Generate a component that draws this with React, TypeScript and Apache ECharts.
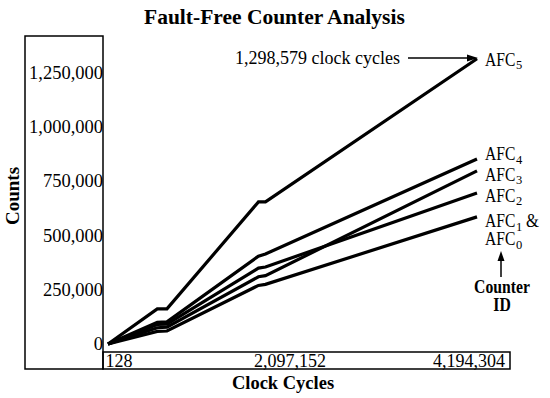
import React, { useEffect, useRef } from "react";
import * as echarts from "echarts";

const clockCycles = [128, 560000, 670000, 1710000, 1790000, 4194304];
const afc5 = [0, 162000, 162000, 655000, 655000, 1315000];
const afc4 = [0, 100000, 102000, 405000, 415000, 853000];
const afc3 = [0, 75000, 78000, 310000, 315000, 798000];
const afc2 = [0, 90000, 92000, 350000, 355000, 696000];
const afc10 = [0, 58000, 60000, 270000, 275000, 586000];
const xTickLabels = ["128", "2,097,152", "4,194,304"];
const seriesNames = ["AFC5", "AFC4", "AFC3", "AFC2", "AFC1 & AFC0"];

const FONT = "'Liberation Serif', 'Times New Roman', serif";

export default function App() {
  const ref = useRef<HTMLDivElement>(null);
  useEffect(() => {
    const chart = echarts.init(ref.current!, null, { renderer: "svg" });
    const all = [afc5, afc4, afc3, afc2, afc10];
    const txt = (x: number, y: number, text: string, size: number, opts: any = {}) => ({
      type: "text",
      x,
      y,
      scaleX: opts.scaleX ?? 1,
      rotation: opts.rotation ?? 0,
      style: {
        text,
        fontSize: size,
        fontFamily: FONT,
        fontWeight: opts.bold ? "bold" : "normal",
        fill: "#000",
        align: opts.align ?? "left",
        textAlign: opts.align ?? "left",
        verticalAlign: "middle",
        textVerticalAlign: "middle",
      },
    });
    const afcLabel = (y: number, sub: string, extra?: string) => {
      const els: any[] = [
        txt(485, y, "AFC", 19.5, { scaleX: 0.8 }),
        txt(516, y + 6, sub, 12.5),
      ];
      if (extra) els.push(txt(526, y, extra, 19.5, { scaleX: 0.85 }));
      return els;
    };
    chart.setOption({
      animation: false,
      title: {
        text: "Fault-Free Counter Analysis",
        left: 139,
        top: 1,
        textStyle: { fontFamily: FONT, fontWeight: "bold", fontSize: 21.5, color: "#000" },
      },
      grid: { left: 108, right: 73, top: 36, bottom: 54 },
      xAxis: {
        type: "value",
        min: 0,
        max: 4194304,
        interval: 2097152,
        axisLine: { show: false },
        axisTick: { show: false },
        splitLine: { show: false },
        axisLabel: {
          margin: 8,
          color: "#000",
          fontFamily: FONT,
          fontSize: 18,
          formatter: (v: number) => {
            if (v === 0) return "{l|" + xTickLabels[0] + "}";
            if (v === 2097152) return "{m|" + xTickLabels[1] + "}";
            return "{r|" + xTickLabels[2] + "}";
          },
          rich: {
            l: { fontFamily: FONT, fontSize: 18, color: "#000", padding: [0, 0, 0, 22] },
            m: { fontFamily: FONT, fontSize: 18, color: "#000", padding: [0, 5, 0, 0] },
            r: { fontFamily: FONT, fontSize: 18, color: "#000", padding: [0, 16, 0, 0] },
          },
        },
      },
      yAxis: {
        type: "value",
        min: 0,
        max: 1420000,
        interval: 250000,
        axisLine: { show: false },
        axisTick: { show: false },
        splitLine: { show: false },
        axisLabel: {
          margin: 5,
          color: "#000",
          fontFamily: FONT,
          fontSize: 18.5,
          showMaxLabel: false,
          formatter: (v: number) => v.toLocaleString("en-US"),
        },
      },
      series: all.map((vals, i) => ({
        name: seriesNames[i],
        type: "line",
        data: vals.map((v, j) => [clockCycles[j], v]),
        showSymbol: false,
        symbol: "none",
        clip: false,
        lineStyle: { color: "#000", width: 3.2, join: "miter" },
      })),
      graphic: [
        { type: "rect", shape: { x: 25, y: 36, width: 78, height: 333 }, style: { fill: "none", stroke: "#000", lineWidth: 1.5 } },
        { type: "rect", shape: { x: 103, y: 352, width: 407, height: 17 }, style: { fill: "none", stroke: "#000", lineWidth: 1.5 } },
        txt(12, 196, "Counts", 19, { bold: true, rotation: Math.PI / 2, align: "center" }),
        txt(283, 383, "Clock Cycles", 18.5, { bold: true, align: "center" }),
        txt(235, 58, "1,298,579 clock cycles", 18),
        { type: "line", shape: { x1: 408, y1: 58, x2: 470, y2: 58 }, style: { stroke: "#000", lineWidth: 1.5 } },
        { type: "polygon", shape: { points: [[478, 58], [467, 54.5], [467, 61.5]] }, style: { fill: "#000" } },
        ...afcLabel(59, "5"),
        ...afcLabel(153.5, "4"),
        ...afcLabel(174, "3"),
        ...afcLabel(195, "2"),
        ...afcLabel(220.5, "1", "&"),
        ...afcLabel(238.5, "0"),
        { type: "line", shape: { x1: 501, y1: 277, x2: 501, y2: 258 }, style: { stroke: "#000", lineWidth: 1.5 } },
        { type: "polygon", shape: { points: [[501, 251], [497.5, 261], [504.5, 261]] }, style: { fill: "#000" } },
        txt(502, 287, "Counter", 18.5, { bold: true, align: "center", scaleX: 0.85 }),
        txt(502, 305, "ID", 18.5, { bold: true, align: "center", scaleX: 0.85 }),
      ],
    });
    return () => chart.dispose();
  }, []);
  return (
    <div
      ref={ref}
      style={{ position: "fixed", left: 0, top: 0, width: 550, height: 398, background: "#fff" }}
    />
  );
}
